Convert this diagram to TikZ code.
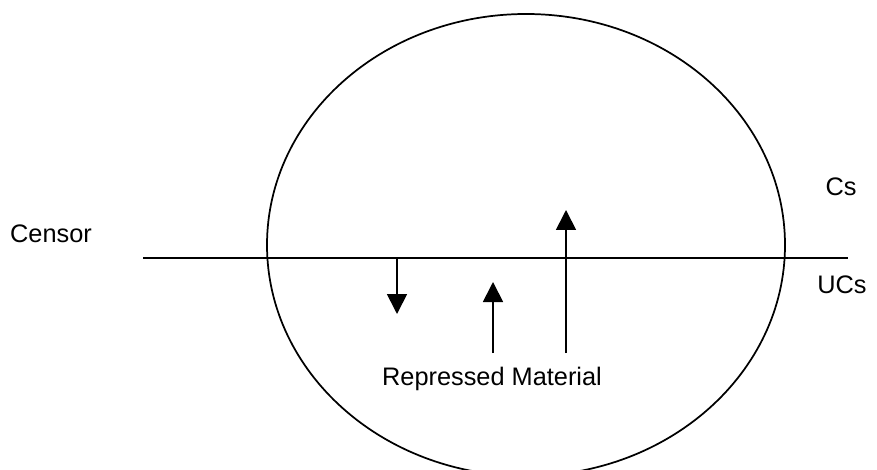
\documentclass[tikz,border=0pt]{standalone}
\usepackage{fontspec}
\setmainfont{Liberation Sans}
\usetikzlibrary{arrows.meta}
\begin{document}
\begin{tikzpicture}[x=0.75pt, y=-0.75pt,
    stroke/.style={line width=1.3pt},
    pointer/.style={stroke, -{Triangle[length=15pt,width=15pt]}},
    label/.style={anchor=base, inner sep=0pt, font=\fontsize{19}{23}\selectfont}]
    \useasboundingbox (0,0) rectangle (877,470);

    % Mind
    \draw[stroke] (526,245) ellipse [x radius=259, y radius=231];

    % Censor line
    \coordinate (lineL) at (143,258);
    \coordinate (lineR) at (848,258);
    \draw[stroke] (lineL) -- (lineR);

    % Labels
    \node[label] (censor) at (51,243) {Censor};
    \node[label] (cs) at (841,196) {Cs};
    \node[label] (ucs) at (842,293) {UCs};
    \node[label] (repressed) at (492,385) {Repressed Material};

    % Arrows
    \foreach \n/\x/\ya/\yb in {down/397/258/314, mid/493/353/282, up/566/353/210} {
        \coordinate (\n start) at (\x,\ya);
        \coordinate (\n end) at (\x,\yb);
        \draw[pointer] (\n start) -- (\n end);
    }
\end{tikzpicture}
\end{document}
